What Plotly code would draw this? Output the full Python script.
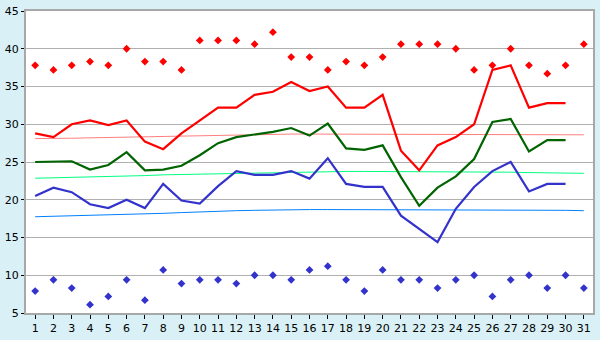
import plotly.graph_objects as go

days = list(range(1, 32))

max_abs = [37.8, 37.2, 37.8, 38.3, 37.8, 40.0, 38.3, 38.3, 37.2, 41.1,
           41.1, 41.1, 40.6, 42.2, 38.9, 38.9, 37.2, 38.3, 37.8, 38.9,
           40.6, 40.6, 40.6, 40.0, 37.2, 37.8, 40.0, 37.8, 36.7, 37.8, 40.6]
min_abs = [7.9, 9.4, 8.3, 6.1, 7.2, 9.4, 6.7, 10.7, 8.9, 9.4,
           9.4, 8.9, 10.0, 10.0, 9.4, 10.7, 11.2, 9.4, 7.9, 10.7,
           9.4, 9.4, 8.3, 9.4, 10.0, 7.2, 9.4, 10.0, 8.3, 10.0, 8.3]

max_avg = [28.8, 28.3, 30.0, 30.5, 29.9, 30.5, 27.7, 26.7, 28.8, 30.5,
           32.2, 32.2, 33.9, 34.3, 35.6, 34.4, 35.0, 32.2, 32.2, 33.9,
           26.5, 23.9, 27.2, 28.3, 30.0, 37.2, 37.8, 32.2, 32.8, 32.8]
mean_avg = [25.0, 25.1, 25.1, 24.0, 24.6, 26.3, 23.9, 24.0, 24.5, 25.9,
            27.5, 28.3, 28.6, 29.0, 29.5, 28.5, 30.1, 26.8, 26.6, 27.2,
            23.0, 19.2, 21.6, 23.1, 25.4, 30.3, 30.7, 26.4, 27.9, 27.9]
min_avg = [20.5, 21.6, 21.0, 19.4, 18.9, 20.0, 18.9, 22.1, 19.9, 19.5,
           21.8, 23.8, 23.3, 23.3, 23.8, 22.8, 25.5, 22.1, 21.7, 21.7,
           17.9, 16.1, 14.4, 18.8, 21.7, 23.8, 25.0, 21.1, 22.1, 22.1]

max_norm = [28.1, 28.1, 28.15, 28.2, 28.25, 28.3, 28.35, 28.4, 28.45, 28.5,
            28.55, 28.6, 28.6, 28.65, 28.7, 28.7, 28.7, 28.7, 28.7, 28.7,
            28.7, 28.7, 28.7, 28.7, 28.7, 28.7, 28.65, 28.65, 28.6, 28.6, 28.6]
mean_norm = [22.85, 22.9, 22.95, 23.0, 23.1, 23.15, 23.2, 23.3, 23.35, 23.4,
             23.45, 23.5, 23.55, 23.6, 23.65, 23.7, 23.7, 23.75, 23.75, 23.75,
             23.75, 23.75, 23.75, 23.75, 23.7, 23.7, 23.65, 23.6, 23.55, 23.5, 23.5]
min_norm = [17.75, 17.8, 17.85, 17.9, 18.0, 18.05, 18.1, 18.2, 18.3, 18.4,
            18.5, 18.55, 18.6, 18.65, 18.65, 18.7, 18.7, 18.7, 18.7, 18.7,
            18.7, 18.7, 18.7, 18.7, 18.7, 18.7, 18.7, 18.7, 18.65, 18.6, 18.55]

y_ticks = [5, 10, 15, 20, 25, 30, 35, 40, 45]

fig = go.Figure()

fig.add_trace(go.Scatter(x=days, y=max_norm, mode="lines",
                         line=dict(color="#ff7f7f", width=1)))
fig.add_trace(go.Scatter(x=days, y=mean_norm, mode="lines",
                         line=dict(color="#00ff80", width=1)))
fig.add_trace(go.Scatter(x=days, y=min_norm, mode="lines",
                         line=dict(color="#0080ff", width=1)))

fig.add_trace(go.Scatter(x=days[:len(max_avg)], y=max_avg, mode="lines",
                         line=dict(color="#ff0000", width=2.2)))
fig.add_trace(go.Scatter(x=days[:len(mean_avg)], y=mean_avg, mode="lines",
                         line=dict(color="#006400", width=2.2)))
fig.add_trace(go.Scatter(x=days[:len(min_avg)], y=min_avg, mode="lines",
                         line=dict(color="#3333cc", width=2.2)))

fig.add_trace(go.Scatter(x=days, y=max_abs, mode="markers",
                         marker=dict(symbol="diamond", size=6, color="#ff0000")))
fig.add_trace(go.Scatter(x=days, y=min_abs, mode="markers",
                         marker=dict(symbol="diamond", size=6, color="#3333cc")))

fig.update_layout(
    width=600, height=340,
    margin=dict(l=21, r=5, t=5, b=20),
    paper_bgcolor="#d9f0f6",
    plot_bgcolor="#ffffff",
    showlegend=False,
    font=dict(family="DejaVu Sans", size=11, color="#000000"),
)
fig.update_xaxes(range=[0.5, 31.5], tickmode="array", tickvals=days,
                 ticktext=[str(d) for d in days],
                 showgrid=False, zeroline=False,
                 showline=True, linecolor="#a8a8a8", linewidth=2, mirror=True,
                 ticks="outside", ticklen=4, tickcolor="#000000")
fig.update_yaxes(range=[5, 45], tickmode="array", tickvals=y_ticks,
                 showgrid=True, gridcolor="#b0b0b0", gridwidth=1, zeroline=False,
                 showline=True, linecolor="#a8a8a8", linewidth=2, mirror=True,
                 ticks="outside", ticklen=3, tickcolor="#000000")

fig.write_html("out.html")
